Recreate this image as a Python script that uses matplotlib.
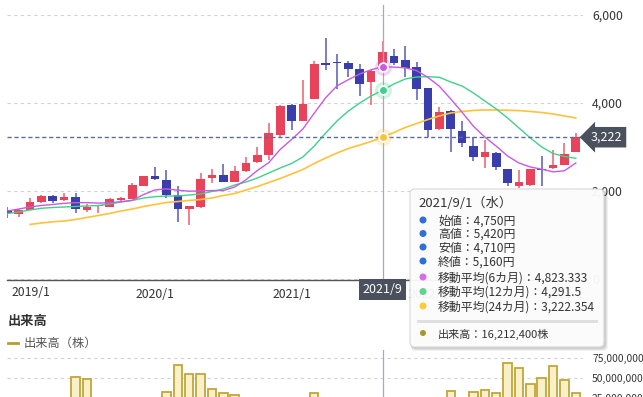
import matplotlib
matplotlib.use('Agg')
import matplotlib.pyplot as plt
import matplotlib.transforms as mtransforms
from matplotlib.patches import FancyBboxPatch, Circle
from matplotlib.lines import Line2D
import numpy as np

plt.rcParams['font.family'] = ['Noto Sans CJK JP', 'DejaVu Sans']

# ---------------- data (monthly, 2018/12 .. 2023/2) ----------------
months = ['2018/12'] + [f'{y}/{m}' for y in range(2019, 2023) for m in range(1, 13)] + ['2023/1', '2023/2']

opens = [1560, 1480, 1570, 1750, 1890, 1800, 1860, 1570, 1650, 1640, 1800, 1820, 2120,
         2330, 2250, 1910, 1580, 1630, 2300, 2360, 2210, 2450, 2650, 2810, 3270, 3960,
         3590, 4090, 4900, 4920, 4900, 4770, 4470, 4750, 5070, 4980, 4810, 4330, 3420,
         3820, 3360, 3030, 2780, 2870, 2490, 2110, 2140, 2500, 2520, 2590, 2890]
highs = [1640, 1580, 1840, 1900, 1900, 1950, 1960, 1700, 1670, 1830, 1870, 2190, 2340,
         2550, 2480, 2110, 1670, 2400, 2490, 2610, 2570, 2780, 2990, 3550, 3950, 3970,
         4520, 4960, 5470, 5110, 4960, 4890, 4740, 5420, 5220, 5300, 4930, 4340, 3900,
         3840, 3580, 3220, 3160, 2890, 2500, 2480, 2510, 2800, 2930, 3080, 3320]
lows = [1390, 1410, 1560, 1730, 1720, 1780, 1490, 1520, 1500, 1630, 1780, 1810, 2110,
        2260, 1830, 1300, 1230, 1620, 2180, 2200, 2200, 2430, 2630, 2700, 3200, 3390,
        3580, 4080, 4750, 4310, 4600, 4160, 3950, 4710, 4860, 4600, 4070, 3230, 3390,
        2890, 2990, 2690, 2520, 2480, 2110, 2060, 2110, 2110, 2500, 2580, 2880]
closes = [1500, 1570, 1750, 1890, 1780, 1870, 1580, 1640, 1665, 1810, 1850, 2140, 2330,
          2270, 1910, 1580, 1660, 2270, 2360, 2210, 2460, 2630, 2810, 3310, 3930, 3580,
          3980, 4880, 4860, 4900, 4770, 4430, 4720, 5160, 4900, 4790, 4320, 3390, 3790,
          3410, 3080, 2780, 2880, 2550, 2190, 2210, 2490, 2480, 2590, 2840, 3222]

ma6 = [1545, 1590, 1636, 1671, 1693, 1720, 1735, 1735, 1725, 1732, 1755, 1790, 1920,
       2025, 2048, 2018, 1995, 2002, 2010, 2010, 2090, 2257, 2467, 2645, 2945, 3170,
       3410, 3770, 4120, 4390, 4530, 4660, 4755, 4823.333, 4815, 4800, 4735, 4580, 4380,
       4090, 3790, 3470, 3225, 3020, 2795, 2636, 2545, 2495, 2435, 2460, 2637]
ma12 = [1489, 1523, 1568, 1607, 1625, 1636, 1648, 1659, 1670, 1705, 1750, 1784, 1841,
        1871, 1886, 1886, 1909, 1932, 1989, 2045, 2136, 2205, 2296, 2409, 2523, 2625,
        2773, 3023, 3318, 3591, 3818, 4000, 4159, 4291.5, 4432, 4545, 4591, 4598, 4584,
        4477, 4386, 4227, 4045, 3864, 3659, 3432, 3205, 3000, 2852, 2784, 2743]
ma24 = [None, None, 1239, 1273, 1300, 1318, 1352, 1398, 1443, 1489, 1545, 1591, 1648,
        1693, 1739, 1761, 1784, 1807, 1841, 1898, 1943, 2023, 2102, 2193, 2284, 2386,
        2489, 2625, 2750, 2864, 2966, 3045, 3125, 3222.354, 3330, 3443, 3534, 3625, 3705,
        3773, 3807, 3830, 3841, 3841, 3834, 3827, 3807, 3784, 3750, 3705, 3659]
volumes = [12e6, 14e6, 15e6, 13e6, 11e6, 18e6, 50.9e6, 48.75e6, 20e6, 16e6, 14e6, 18e6, 22e6,
           21e6, 32.1e6, 66.25e6, 55e6, 54.6e6, 36.6e6, 30.9e6, 28.75e6, 22e6, 20e6, 21e6, 23e6,
           19e6, 17e6, 30.9e6, 20e6, 15e6, 12e6, 14e6, 13e6, 16212400, 12e6, 13e6, 15e6, 22e6,
           20e6, 34.1e6, 23e6, 32.9e6, 35e6, 30.9e6, 69.1e6, 62.1e6, 42.5e6, 50.4e6, 65.4e6,
           47.5e6, 30.9e6]

x_tick_idx = [13, 25, 37, 49]
x_tick_labels = ['2020/1', '2021/1', '2022/1', '2023/1']
first_label_idx = 1
first_label = '2019/1'
sel = 33  # 2021/9
current_price = 3222

tip_title = '2021/9/1（水）'
tip_lines = ['始値：4,750円', '高値：5,420円', '安値：4,710円', '終値：5,160円',
             '移動平均(6カ月)：4,823.333', '移動平均(12カ月)：4,291.5', '移動平均(24カ月)：3,222.354']
tip_vol = '出来高：16,212,400株'

# ---------------- style ----------------
UP = '#e8435b'
DOWN = '#3a3dac'
C6 = '#c85ae0'
C12 = '#3fd18a'
C24 = '#ffc23a'
GRID = '#d3d3d3'
TXT = '#333333'
AXFS = 8.4

W, H = 643, 397
fig = plt.figure(figsize=(W / 100, H / 100), dpi=100)
fig.patch.set_facecolor('white')


def fx(x):
    return x / W


def fy(y):
    return 1 - y / H


PX = mtransforms.Affine2D().scale(1, -1).translate(0, H)  # pixel coords, top-left origin

x = np.arange(len(closes))
x_left = (7 - 7.3) / 11.37
x_right = (583 - 7.3) / 11.37

# ---------------- price axes ----------------
ax = fig.add_axes([fx(7), fy(280), 576 / W, 275 / H])
ax.set_xlim(x_left, x_right)
ax.set_ylim(-23, 6227)

o = np.array(opens, float)
c = np.array(closes, float)
hi = np.array(highs, float)
lo = np.array(lows, float)
cols = [UP if cc >= oo else DOWN for oo, cc in zip(o, c)]
ax.vlines(x, lo, hi, colors=cols, lw=1.1, alpha=0.85, zorder=3)
body_h = np.maximum(np.abs(c - o), 25)
ax.bar(x, body_h, bottom=np.minimum(o, c), width=0.76, color=cols, zorder=4, linewidth=0)

ma24a = np.array([np.nan if v is None else v for v in ma24], float)
ax.plot(x, ma24a, color=C24, lw=1.2, zorder=5)
ax.plot(x, ma12, color=C12, lw=1.0, zorder=5)
ax.plot(x, ma6, color=C6, lw=1.0, zorder=5)

ax.axhline(current_price, color='#5a6d9e', lw=1.0, ls=(0, (3, 2)), zorder=6)
ax.axvline(sel, color='#a3abc4', lw=0.9, zorder=6)

for val, colr in [(ma6[sel], C6), (ma12[sel], C12), (ma24a[sel], C24)]:
    ax.scatter([sel], [val], s=150, color=colr, alpha=0.25, lw=0, zorder=7)
    ax.scatter([sel], [val], s=40, color=colr, edgecolor='white', lw=1.3, zorder=8)

ax.set_yticks([0, 2000, 4000, 6000])
ax.set_yticklabels(['0', '2,000', '4,000', '6,000'])
ax.yaxis.tick_right()
ax.tick_params(axis='y', length=0, pad=6.5, labelsize=AXFS + 0.4, labelcolor=TXT)
for lab in ax.get_yticklabels():
    lab.set_horizontalalignment('left')
ax.grid(axis='y', color=GRID, lw=0.8, ls=(0, (3, 3)))
ax.set_axisbelow(True)

ax.set_xticks(x_tick_idx)
ax.set_xticklabels(x_tick_labels)
ax.tick_params(axis='x', length=0, pad=6, labelsize=AXFS + 0.4, labelcolor=TXT)
ax.annotate(first_label, xy=(first_label_idx, 0), xycoords=('data', 'axes fraction'),
            xytext=(12, -13), textcoords='offset pixels', ha='center', va='center',
            fontsize=AXFS + 0.4, color=TXT)
for s in ['top', 'left', 'right']:
    ax.spines[s].set_visible(False)
ax.spines['bottom'].set_color('#555555')
ax.spines['bottom'].set_linewidth(1.0)

# current price label box
bt = mtransforms.blended_transform_factory(fig.transFigure, ax.transData)
fig.text(fx(591), current_price, f'{current_price:,}', transform=bt, ha='left', va='center',
         fontsize=AXFS + 0.6, color='white', zorder=9,
         bbox=dict(boxstyle='larrow,pad=0.3', fc='#4a505c', ec='none'))

# crosshair date label
bt2 = mtransforms.blended_transform_factory(ax.transData, fig.transFigure)
fig.text(sel, fy(289.5), months[sel], transform=bt2, ha='center', va='center',
         fontsize=AXFS + 0.6, color='white', zorder=9,
         bbox=dict(boxstyle='square,pad=0.3', fc='#4a505c', ec='none'))

# ---------------- volume axes ----------------
vax = fig.add_axes([fx(7), fy(418), 576 / W, 68 / H])
vax.set_xlim(x_left, x_right)
vax.set_ylim(0, 85e6)
vax.bar(x, volumes, width=0.74, facecolor='#f7f0c9', edgecolor='#c2a637', lw=1.3, zorder=3)
vax.axvline(sel, color='#a3abc4', lw=0.9, zorder=4)
vax.set_yticks([25e6, 50e6, 75e6])
vax.set_yticklabels([f'{int(v):,}' for v in [25e6, 50e6, 75e6]])
vax.yaxis.tick_right()
vax.tick_params(axis='y', length=0, pad=6.5, labelsize=7.4, labelcolor=TXT)
for lab in vax.get_yticklabels():
    lab.set_horizontalalignment('left')
vax.set_xticks([])
vax.grid(axis='y', color=GRID, lw=0.8, ls=(0, (3, 3)))
vax.set_axisbelow(True)
for s in vax.spines.values():
    s.set_visible(False)

fig.text(fx(8), fy(321), '出来高', fontsize=9.5, fontweight='bold', color=TXT, va='center')
fig.add_artist(Line2D([8, 18], [343, 343], transform=PX, color='#b59d2e', lw=2))
fig.text(fx(24), fy(343), '出来高（株）', fontsize=8.8, color='#555555', va='center')

# ---------------- tooltip ----------------
for k, a in [(3, 0.05), (2, 0.07), (1, 0.08)]:
    fig.add_artist(FancyBboxPatch((410 + 1, 189 + 1), 194 + k, 158 + k,
                                  boxstyle='round,pad=0,rounding_size=5', transform=PX,
                                  fc='black', ec='none', alpha=a, zorder=10))
fig.add_artist(FancyBboxPatch((410, 189), 194, 158, boxstyle='round,pad=0,rounding_size=5',
                              transform=PX, fc='white', ec='#d4d4d4', lw=0.8, alpha=0.94, zorder=11))
fig.text(418, 203, tip_title, transform=PX, fontsize=9.5, color=TXT, va='center', zorder=12)
dot_cols = ['#2f6fd6'] * 4 + ['#d56ce8', '#5bd68c', '#ffc93c']
line_y = [221, 234.5, 248, 262, 278, 292.5, 307]
for t, yy, dc in zip(tip_lines, line_y, dot_cols):
    fig.add_artist(Circle((423, yy - 1), 3.5, transform=PX, fc=dc, ec='none', zorder=12))
    fig.text(438, yy, t, transform=PX, fontsize=8.6, color=TXT, va='center', zorder=12)
fig.add_artist(Line2D([418, 596], [321, 321], transform=PX, color='#dddddd', lw=2, zorder=12))
fig.add_artist(Circle((423, 333), 3.0, transform=PX, fc='#a39a2c', ec='none', zorder=12))
fig.text(438, 334.5, tip_vol, transform=PX, fontsize=8.0, color=TXT, va='center', zorder=12)

fig.savefig('out.png', dpi=100)
